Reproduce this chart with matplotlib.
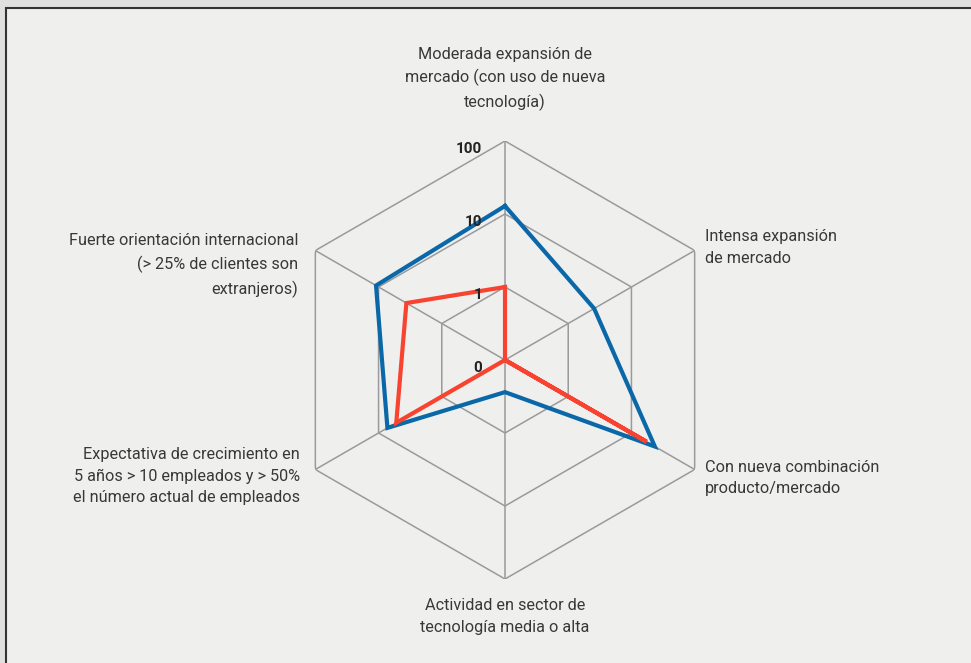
import numpy as np
import matplotlib.pyplot as plt
from matplotlib.patches import Rectangle

# categorías (sentido horario desde arriba)
categorias = [
    "Moderada expansión de\nmercado (con uso de nueva\ntecnología)",
    "Intensa expansión\nde mercado",
    "Con nueva combinación\nproducto/mercado",
    "Actividad en sector de\ntecnología media o alta",
    "Expectativa de crecimiento en\n5 años > 10 empleados y > 50%\nel número actual de empleados",
    "Fuerte orientación internacional\n(> 25% de clientes son\nextranjeros)",
]
# valores en escala logarítmica (0 -> "0", 1 -> "1", 2 -> "10", 3 -> "100")
serie_azul = [2.11, 1.41, 2.37, 0.44, 1.86, 2.04]
serie_roja = [1.00, 0.00, 2.24, 0.00, 1.72, 1.56]
niveles = [0, 1, 2, 3]
etiquetas_niveles = ["0", "1", "10", "100"]

W, H = 971, 663
fig = plt.figure(figsize=(W / 100, H / 100), dpi=100)
fig.patch.set_facecolor("#e0e0de")
fig.patches.append(Rectangle((6 / W, -0.1), 1.2, (H - 8.5) / H + 0.1,
                             transform=fig.transFigure, facecolor="#efefed",
                             edgecolor="#333333", linewidth=1.5, zorder=-10))

cx, cy, rad = 505, 360, 219
ax = fig.add_axes([(cx - rad) / W, (H - cy - rad) / H, 2 * rad / W, 2 * rad / H],
                  projection="polar")
ax.set_facecolor("none")
ax.set_theta_zero_location("N")
ax.set_theta_direction(-1)
ax.set_ylim(0, 3)
ax.grid(False)
ax.spines["polar"].set_visible(False)
ax.set_xticks([])
ax.set_yticks([])

n = len(categorias)
ang = np.linspace(0, 2 * np.pi, n, endpoint=False)
ang_c = np.append(ang, ang[0])

gris = "#9a9a9c"
for lv in niveles[1:]:
    ax.plot(ang_c, [lv] * (n + 1), color=gris, lw=1.1, zorder=1)
for a in ang:
    ax.plot([a, a], [0, 3], color=gris, lw=1.1, zorder=1)

ax.plot(ang_c, serie_azul + serie_azul[:1], color="#0b68a8", lw=3.0, zorder=3,
        solid_joinstyle="miter")
ax.plot(ang_c, serie_roja + serie_roja[:1], color="#f7432f", lw=3.0, zorder=4,
        solid_joinstyle="miter")

fuente = ["Roboto", "DejaVu Sans"]
for lv, lab in zip(niveles, etiquetas_niveles):
    ax.annotate(lab, xy=(0, lv), xytext=(-16.5, -5.5), textcoords="offset points",
                ha="right", va="center", fontsize=11, fontweight="bold",
                color="#222222", family=fuente, zorder=5)

# posiciones de las etiquetas (px): x, y, alineación
pos = [(505, 79, "center"), (705, 247.5, "left"), (705, 478, "left"),
       (505, 616.5, "center"), (300, 476, "right"), (298, 265.5, "right")]
for texto, (x, y, ha) in zip(categorias, pos):
    fig.text(x / W, 1 - y / H, texto, ha=ha, va="center", multialignment=ha,
             fontsize=11.7, color="#383838", family=fuente, linespacing=1.55)

fig.savefig("out.png", dpi=100, facecolor=fig.get_facecolor())
